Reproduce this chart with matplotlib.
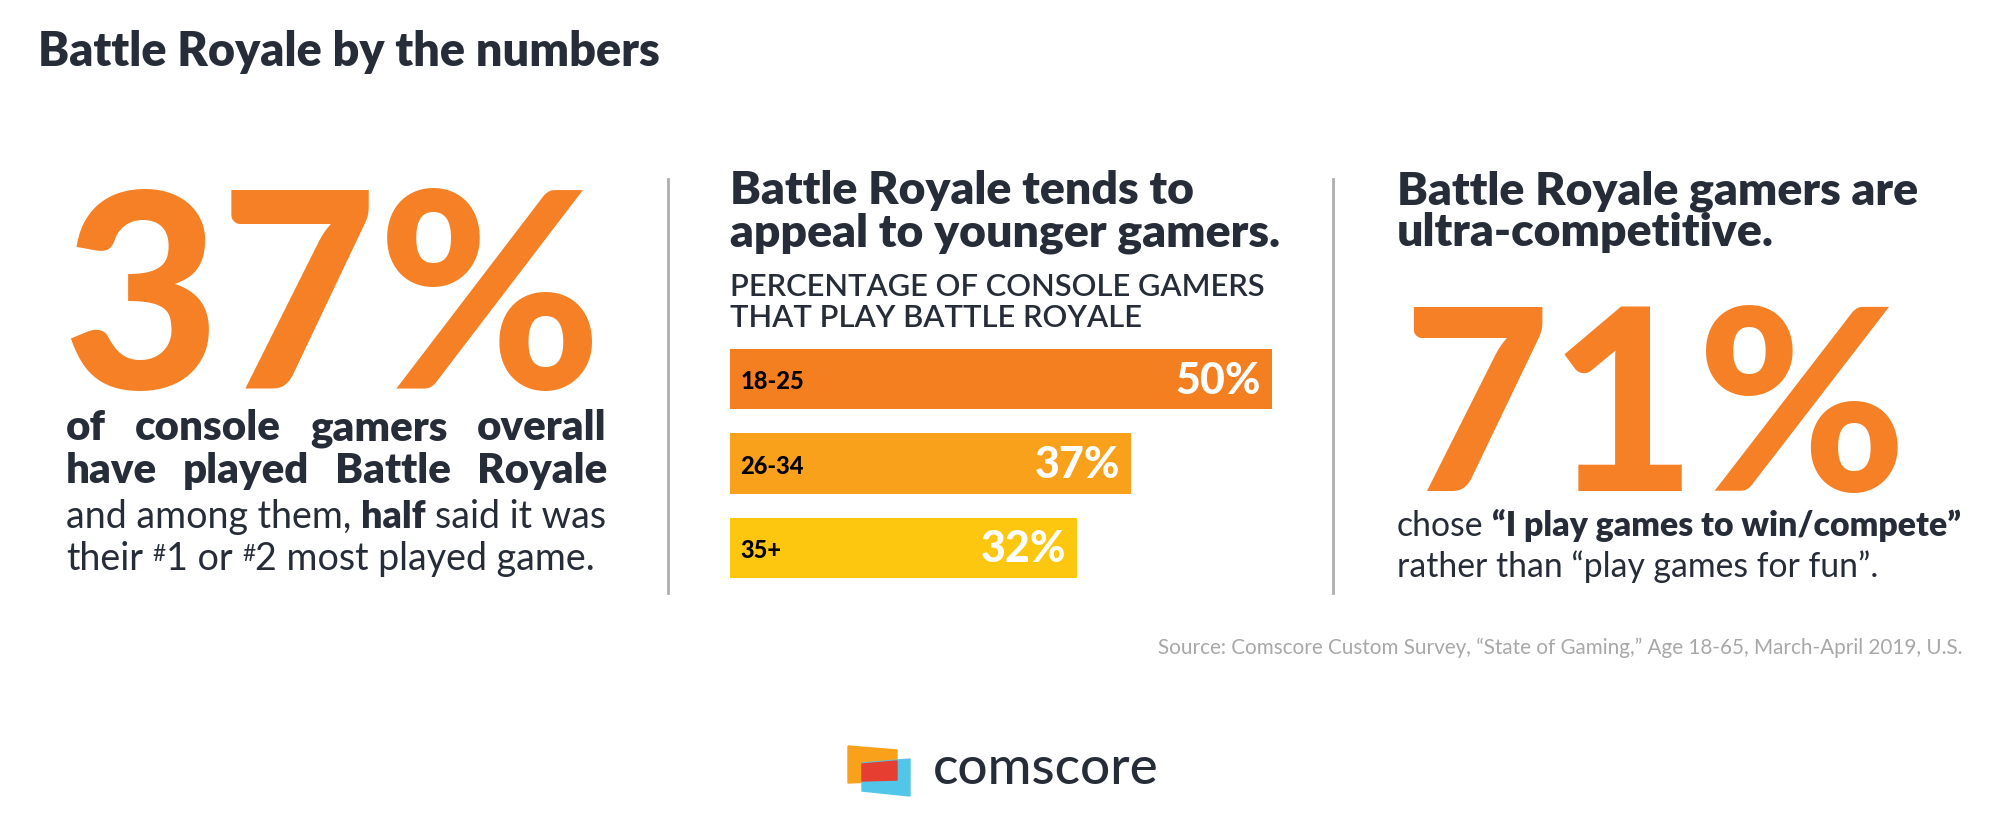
#infografico battle royale - comscore
import matplotlib
matplotlib.use('Agg')
import matplotlib.pyplot as plt
from matplotlib.patches import Polygon
from matplotlib.lines import Line2D

#dados
faixas = ['18-25', '26-34', '35+']
percentuais = [50, 37, 32]
cores_barras = ['#F47F20', '#F9A11B', '#FDC70F']
jogaram = 37       # % de console gamers que jogaram battle royale
competitivos = 71  # % que escolheu "jogo para ganhar"

titulo = 'Battle Royale by the numbers'
titulo_meio = ['Battle Royale tends to', 'appeal to younger gamers.']
sub_meio = ['PERCENTAGE OF CONSOLE GAMERS', 'THAT PLAY BATTLE ROYALE']
titulo_dir = ['Battle Royale gamers are', 'ultra-competitive.']
fonte = ('Source: Comscore Custom Survey, \u201cState of Gaming,\u201d '
         'Age 18-65, March-April 2019, U.S.')

ESCURO = '#262D38'
LARANJA = '#F58025'
FAM = ['Lato', 'DejaVu Sans']

W, H = 2000, 832
fig = plt.figure(figsize=(20, 8.32), dpi=100)
fig.patch.set_facecolor('white')
r = fig.canvas.get_renderer()

def fx(x):
    return x / W

def fy(y):
    return 1 - y / H

def largura(s, size, weight='normal'):
    t = fig.text(0, 0, s, fontsize=size, fontweight=weight, family=FAM)
    w = t.get_window_extent(renderer=r).width
    t.remove()
    return w

def ajusta(s, alvo, weight='normal', base=30):
    #tamanho de fonte para a largura desejada
    return base * alvo / largura(s, base, weight)

def texto(x, y, s, size, weight='normal', color=ESCURO, ha='left'):
    return fig.text(fx(x), fy(y), s, fontsize=size, fontweight=weight,
                    color=color, family=FAM, ha=ha, va='baseline')

def justifica(s, x0, x1, y, size, weight, color=ESCURO):
    palavras = s.split()
    ws = [largura(p, size, weight) for p in palavras]
    gap = (x1 - x0 - sum(ws)) / (len(palavras) - 1)
    x = x0
    for p, wd in zip(palavras, ws):
        texto(x, y, p, size, weight, color)
        x += wd + gap

def larg_trechos(partes, size):
    esp = largura('x x', size) - largura('xx', size)
    tot = 0
    for s, peso, esc, dy in partes:
        tot += esp if s == ' ' else largura(s, size * esc, peso)
    return tot

def trechos(x, y, partes, size, color=ESCURO):
    #partes: (texto, peso, escala, deslocamento)
    esp = largura('x x', size) - largura('xx', size)
    for s, peso, esc, dy in partes:
        if s == ' ':
            x += esp
            continue
        t = texto(x, y - dy, s, size * esc, peso, color)
        x += t.get_window_extent(renderer=r).width

#titulo
texto(38, 66, titulo, ajusta(titulo, 621, 'heavy'), 'heavy')

#coluna esquerda
s37 = '%d%%' % jogaram
tam_big = ajusta(s37, 540, 'black', 200)
texto(62, 389, s37, tam_big, 'black', LARANJA)
tam_b = ajusta('of console gamers overall', 480, 'heavy')
justifica('of console gamers overall', 66, 607, 440, tam_b, 'heavy')
justifica('have played Battle Royale', 66, 607, 483, tam_b, 'heavy')
linha3 = [('and among them,', 'normal', 1, 0), (' ', '', 1, 0),
          ('half', 'heavy', 1, 0), (' ', '', 1, 0), ('said it was', 'normal', 1, 0)]
tam_r = 30 * 541 / larg_trechos(linha3, 30)
trechos(66, 528, linha3, tam_r)
trechos(66, 570, [('their', 'normal', 1, 0), (' ', '', 1, 0),
                  ('#', 'normal', 0.6, 9), ('1 or', 'normal', 1, 0), (' ', '', 1, 0),
                  ('#', 'normal', 0.6, 9), ('2 most played game.', 'normal', 1, 0)], tam_r)

#divisores
for xd in [668, 1333]:
    fig.add_artist(Line2D([fx(xd), fx(xd)], [fy(179), fy(593)],
                          color='#AEAEAE', linewidth=2, transform=fig.transFigure))

#coluna do meio
tam_h = ajusta(titulo_meio[1], 549, 'heavy')
texto(730, 204, titulo_meio[0], tam_h, 'heavy')
texto(730, 246, titulo_meio[1], tam_h, 'heavy')
tam_s = ajusta(sub_meio[0], 535, 'bold')
texto(730, 296, sub_meio[0], tam_s, 'semibold')
texto(730, 327, sub_meio[1], tam_s, 'semibold')

#barras: 10.84 px por ponto percentual
ax = fig.add_axes([fx(730), fy(578), 542 / W, 229 / H])
alt = 61 / 85
pos = list(range(len(faixas)))
ax.barh(pos, percentuais, height=alt, color=cores_barras, left=0)
ax.set_xlim(0, 50)
ax.set_ylim(len(faixas) - 1 + alt / 2, -alt / 2)
ax.axis('off')
for i in pos:
    ax.text(0.95, i + 0.03, faixas[i], fontsize=17, fontweight='black', color='black',
            family=FAM, va='center', ha='left')
    ax.text(percentuais[i] - 1.0, i + 0.02, '%d%%' % percentuais[i], fontsize=31,
            fontweight='black', color='white', family=FAM, va='center', ha='right')

#coluna direita
texto(1397, 204, titulo_dir[0], tam_h, 'heavy')
texto(1397, 246, titulo_dir[1], tam_h, 'heavy')
s71 = '%d%%' % competitivos
texto(1402, 491, s71, ajusta(s71, 505, 'black', 200), 'black', LARANJA)
linha_c = [('chose', 'normal', 1, 0), (' ', '', 1, 0),
           ('\u201cI play games to win/compete\u201d', 'heavy', 1, 0)]
tam_d = 30 * 563 / larg_trechos(linha_c, 30)
trechos(1397, 536, linha_c, tam_d)
texto(1397, 577, 'rather than \u201cplay games for fun\u201d.', tam_d)

#fonte
texto(1962, 654, fonte, ajusta(fonte, 804), color='#A8A8A8', ha='right')

#logo comscore
fig.add_artist(Polygon([(fx(848), fy(746)), (fx(897), fy(750)), (fx(897), fy(781)),
                        (fx(848), fy(783))], closed=True, color='#F9A11B',
                       transform=fig.transFigure))
fig.add_artist(Polygon([(fx(862), fy(763)), (fx(910), fy(759)), (fx(910), fy(796)),
                        (fx(862), fy(791))], closed=True, color='#52C6E8',
                       transform=fig.transFigure))
fig.add_artist(Polygon([(fx(862), fy(764)), (fx(897), fy(761)), (fx(897), fy(780)),
                        (fx(862), fy(781))], closed=True, color='#E63E30',
                       transform=fig.transFigure))
texto(933, 784, 'comscore', ajusta('comscore', 225, 'medium'), 'medium')

fig.savefig('out.png', dpi=100, facecolor='white')
